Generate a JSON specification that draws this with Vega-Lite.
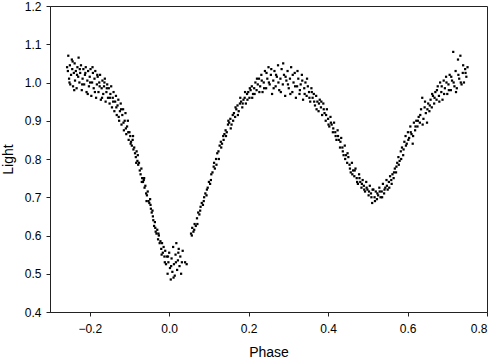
{
  "$schema": "https://vega.github.io/schema/vega-lite/v6.json",
  "width": 437,
  "height": 306,
  "autosize": {"type": "none"},
  "padding": {"left": 50, "top": 6, "right": 8, "bottom": 46},
  "background": "white",
  "config": {
    "view": {"stroke": "#222", "strokeWidth": 1},
    "axis": {
      "domainColor": "#222", "tickColor": "#222", "tickSize": 4, "grid": false,
      "labelFont": "Liberation Sans", "labelFontSize": 12, "labelColor": "#000",
      "titleFont": "Liberation Sans", "titleFontSize": 14, "titleFontWeight": "normal", "titleColor": "#000"
    }
  },
  "data": {"values": [
    {"phase": -0.255, "light": 1.03}, {"phase": -0.254, "light": 1.07}, {"phase": -0.252, "light": 1.01}, {"phase": -0.25, "light": 1.045},
    {"phase": -0.249, "light": 0.995}, {"phase": -0.247, "light": 1.02}, {"phase": -0.245, "light": 1.06}, {"phase": -0.244, "light": 1.035},
    {"phase": -0.242, "light": 0.99}, {"phase": -0.24, "light": 1.025}, {"phase": -0.238, "light": 1.05}, {"phase": -0.237, "light": 1.005},
    {"phase": -0.235, "light": 1.03}, {"phase": -0.233, "light": 0.985}, {"phase": -0.231, "light": 1.04}, {"phase": -0.229, "light": 1.015},
    {"phase": -0.228, "light": 1.065}, {"phase": -0.226, "light": 1.0}, {"phase": -0.224, "light": 1.025}, {"phase": -0.222, "light": 1.045},
    {"phase": -0.22, "light": 0.98}, {"phase": -0.218, "light": 1.01}, {"phase": -0.216, "light": 1.035}, {"phase": -0.214, "light": 0.995},
    {"phase": -0.212, "light": 1.02}, {"phase": -0.21, "light": 1.04}, {"phase": -0.208, "light": 0.975}, {"phase": -0.206, "light": 1.005},
    {"phase": -0.204, "light": 1.03}, {"phase": -0.202, "light": 0.99}, {"phase": -0.2, "light": 1.015}, {"phase": -0.198, "light": 1.035},
    {"phase": -0.196, "light": 0.965}, {"phase": -0.194, "light": 1.0}, {"phase": -0.192, "light": 1.025}, {"phase": -0.19, "light": 0.985},
    {"phase": -0.188, "light": 1.01}, {"phase": -0.186, "light": 1.03}, {"phase": -0.184, "light": 0.96}, {"phase": -0.182, "light": 0.995},
    {"phase": -0.18, "light": 1.015}, {"phase": -0.178, "light": 0.975}, {"phase": -0.176, "light": 1.0}, {"phase": -0.174, "light": 1.02},
    {"phase": -0.172, "light": 0.955}, {"phase": -0.17, "light": 0.985}, {"phase": -0.168, "light": 1.005}, {"phase": -0.166, "light": 0.97},
    {"phase": -0.164, "light": 0.99}, {"phase": -0.162, "light": 1.01}, {"phase": -0.16, "light": 0.95}, {"phase": -0.158, "light": 0.975},
    {"phase": -0.156, "light": 0.995}, {"phase": -0.154, "light": 0.96}, {"phase": -0.152, "light": 0.985}, {"phase": -0.15, "light": 0.945},
    {"phase": -0.148, "light": 0.97}, {"phase": -0.146, "light": 0.99}, {"phase": -0.144, "light": 0.935}, {"phase": -0.142, "light": 0.96},
    {"phase": -0.14, "light": 0.975}, {"phase": -0.138, "light": 0.925}, {"phase": -0.136, "light": 0.95}, {"phase": -0.134, "light": 0.965},
    {"phase": -0.132, "light": 0.915}, {"phase": -0.13, "light": 0.94}, {"phase": -0.128, "light": 0.955}, {"phase": -0.126, "light": 0.9},
    {"phase": -0.124, "light": 0.925}, {"phase": -0.122, "light": 0.945}, {"phase": -0.12, "light": 0.89}, {"phase": -0.118, "light": 0.915},
    {"phase": -0.116, "light": 0.93}, {"phase": -0.114, "light": 0.875}, {"phase": -0.112, "light": 0.9}, {"phase": -0.11, "light": 0.92},
    {"phase": -0.108, "light": 0.865}, {"phase": -0.106, "light": 0.885}, {"phase": -0.104, "light": 0.9}, {"phase": -0.102, "light": 0.85},
    {"phase": -0.1, "light": 0.87}, {"phase": -0.098, "light": 0.86}, {"phase": -0.096, "light": 0.845}, {"phase": -0.094, "light": 0.835},
    {"phase": -0.092, "light": 0.85}, {"phase": -0.09, "light": 0.825}, {"phase": -0.088, "light": 0.83}, {"phase": -0.086, "light": 0.815},
    {"phase": -0.084, "light": 0.805}, {"phase": -0.082, "light": 0.82}, {"phase": -0.08, "light": 0.795}, {"phase": -0.078, "light": 0.785},
    {"phase": -0.076, "light": 0.79}, {"phase": -0.074, "light": 0.77}, {"phase": -0.072, "light": 0.76}, {"phase": -0.07, "light": 0.775},
    {"phase": -0.068, "light": 0.75}, {"phase": -0.066, "light": 0.74}, {"phase": -0.064, "light": 0.745}, {"phase": -0.062, "light": 0.725},
    {"phase": -0.06, "light": 0.73}, {"phase": -0.058, "light": 0.71}, {"phase": -0.056, "light": 0.705}, {"phase": -0.054, "light": 0.715},
    {"phase": -0.052, "light": 0.69}, {"phase": -0.05, "light": 0.685}, {"phase": -0.048, "light": 0.695}, {"phase": -0.046, "light": 0.67},
    {"phase": -0.044, "light": 0.66}, {"phase": -0.042, "light": 0.665}, {"phase": -0.04, "light": 0.64}, {"phase": -0.038, "light": 0.625},
    {"phase": -0.036, "light": 0.635}, {"phase": -0.034, "light": 0.61}, {"phase": -0.032, "light": 0.605}, {"phase": -0.03, "light": 0.615},
    {"phase": -0.028, "light": 0.59}, {"phase": -0.026, "light": 0.6}, {"phase": -0.024, "light": 0.58}, {"phase": -0.022, "light": 0.585},
    {"phase": -0.02, "light": 0.565}, {"phase": -0.018, "light": 0.58}, {"phase": -0.016, "light": 0.555}, {"phase": -0.014, "light": 0.57},
    {"phase": -0.012, "light": 0.545}, {"phase": -0.01, "light": 0.56}, {"phase": -0.008, "light": 0.525}, {"phase": -0.006, "light": 0.545},
    {"phase": -0.004, "light": 0.5}, {"phase": -0.002, "light": 0.53}, {"phase": 0.0, "light": 0.555}, {"phase": 0.002, "light": 0.515},
    {"phase": 0.004, "light": 0.485}, {"phase": 0.006, "light": 0.54}, {"phase": 0.008, "light": 0.505}, {"phase": 0.01, "light": 0.57},
    {"phase": 0.012, "light": 0.525}, {"phase": 0.014, "light": 0.495}, {"phase": 0.016, "light": 0.55}, {"phase": 0.018, "light": 0.58},
    {"phase": 0.02, "light": 0.51}, {"phase": 0.022, "light": 0.535}, {"phase": 0.024, "light": 0.565}, {"phase": 0.026, "light": 0.52},
    {"phase": 0.028, "light": 0.545}, {"phase": 0.03, "light": 0.5}, {"phase": 0.034, "light": 0.56}, {"phase": 0.04, "light": 0.53},
    {"phase": 0.044, "light": 0.525}, {"phase": 0.055, "light": 0.605}, {"phase": 0.058, "light": 0.62}, {"phase": 0.061, "light": 0.61},
    {"phase": 0.064, "light": 0.63}, {"phase": 0.067, "light": 0.625}, {"phase": 0.07, "light": 0.645}, {"phase": 0.073, "light": 0.66},
    {"phase": 0.076, "light": 0.655}, {"phase": 0.079, "light": 0.675}, {"phase": 0.082, "light": 0.685}, {"phase": 0.085, "light": 0.68},
    {"phase": 0.088, "light": 0.7}, {"phase": 0.091, "light": 0.71}, {"phase": 0.094, "light": 0.705}, {"phase": 0.097, "light": 0.725},
    {"phase": 0.1, "light": 0.74}, {"phase": 0.103, "light": 0.735}, {"phase": 0.106, "light": 0.76}, {"phase": 0.109, "light": 0.765},
    {"phase": 0.112, "light": 0.78}, {"phase": 0.115, "light": 0.775}, {"phase": 0.118, "light": 0.8}, {"phase": 0.121, "light": 0.815},
    {"phase": 0.124, "light": 0.82}, {"phase": 0.127, "light": 0.835}, {"phase": 0.13, "light": 0.845}, {"phase": 0.133, "light": 0.84},
    {"phase": 0.136, "light": 0.86}, {"phase": 0.139, "light": 0.865}, {"phase": 0.142, "light": 0.875}, {"phase": 0.145, "light": 0.87},
    {"phase": 0.148, "light": 0.89}, {"phase": 0.151, "light": 0.895}, {"phase": 0.154, "light": 0.905}, {"phase": 0.157, "light": 0.89},
    {"phase": 0.16, "light": 0.915}, {"phase": 0.163, "light": 0.92}, {"phase": 0.166, "light": 0.91}, {"phase": 0.169, "light": 0.93},
    {"phase": 0.172, "light": 0.94}, {"phase": 0.175, "light": 0.925}, {"phase": 0.178, "light": 0.945}, {"phase": 0.181, "light": 0.95},
    {"phase": 0.184, "light": 0.935}, {"phase": 0.187, "light": 0.955}, {"phase": 0.19, "light": 0.96}, {"phase": 0.193, "light": 0.945},
    {"phase": 0.196, "light": 0.97}, {"phase": 0.199, "light": 0.975}, {"phase": 0.202, "light": 0.96}, {"phase": 0.205, "light": 0.98},
    {"phase": 0.208, "light": 0.99}, {"phase": 0.211, "light": 0.97}, {"phase": 0.214, "light": 0.985}, {"phase": 0.217, "light": 1.0},
    {"phase": 0.22, "light": 0.98}, {"phase": 0.223, "light": 0.995}, {"phase": 0.226, "light": 1.01}, {"phase": 0.229, "light": 0.99},
    {"phase": 0.232, "light": 1.02}, {"phase": 0.235, "light": 0.975}, {"phase": 0.238, "light": 1.0}, {"phase": 0.241, "light": 1.03},
    {"phase": 0.244, "light": 0.985}, {"phase": 0.247, "light": 1.01}, {"phase": 0.25, "light": 1.04}, {"phase": 0.253, "light": 0.995},
    {"phase": 0.256, "light": 1.02}, {"phase": 0.259, "light": 0.97}, {"phase": 0.262, "light": 1.005}, {"phase": 0.265, "light": 1.03},
    {"phase": 0.268, "light": 0.99}, {"phase": 0.271, "light": 1.015}, {"phase": 0.274, "light": 1.045}, {"phase": 0.277, "light": 0.98},
    {"phase": 0.28, "light": 1.01}, {"phase": 0.283, "light": 1.035}, {"phase": 0.286, "light": 0.995}, {"phase": 0.289, "light": 1.02},
    {"phase": 0.292, "light": 0.965}, {"phase": 0.295, "light": 1.005}, {"phase": 0.298, "light": 1.03}, {"phase": 0.301, "light": 0.985},
    {"phase": 0.304, "light": 1.01}, {"phase": 0.307, "light": 1.04}, {"phase": 0.31, "light": 0.975}, {"phase": 0.313, "light": 1.0},
    {"phase": 0.316, "light": 1.025}, {"phase": 0.319, "light": 0.96}, {"phase": 0.322, "light": 0.99}, {"phase": 0.325, "light": 1.01},
    {"phase": 0.328, "light": 0.97}, {"phase": 0.331, "light": 0.995}, {"phase": 0.334, "light": 1.02}, {"phase": 0.337, "light": 0.955},
    {"phase": 0.34, "light": 0.985}, {"phase": 0.343, "light": 1.0}, {"phase": 0.346, "light": 0.965}, {"phase": 0.349, "light": 0.99},
    {"phase": 0.352, "light": 0.975}, {"phase": 0.355, "light": 0.95}, {"phase": 0.358, "light": 0.985}, {"phase": 0.361, "light": 0.96},
    {"phase": 0.364, "light": 0.97}, {"phase": 0.367, "light": 0.94}, {"phase": 0.37, "light": 0.965}, {"phase": 0.373, "light": 0.95},
    {"phase": 0.376, "light": 0.925}, {"phase": 0.379, "light": 0.955}, {"phase": 0.382, "light": 0.935}, {"phase": 0.385, "light": 0.915},
    {"phase": 0.388, "light": 0.945}, {"phase": 0.391, "light": 0.92}, {"phase": 0.394, "light": 0.9}, {"phase": 0.397, "light": 0.93},
    {"phase": 0.4, "light": 0.905}, {"phase": 0.403, "light": 0.885}, {"phase": 0.406, "light": 0.91}, {"phase": 0.409, "light": 0.89},
    {"phase": 0.412, "light": 0.87}, {"phase": 0.415, "light": 0.895}, {"phase": 0.418, "light": 0.87}, {"phase": 0.421, "light": 0.85},
    {"phase": 0.424, "light": 0.875}, {"phase": 0.427, "light": 0.85}, {"phase": 0.43, "light": 0.83}, {"phase": 0.433, "light": 0.855},
    {"phase": 0.436, "light": 0.83}, {"phase": 0.439, "light": 0.81}, {"phase": 0.442, "light": 0.835}, {"phase": 0.445, "light": 0.81},
    {"phase": 0.448, "light": 0.79}, {"phase": 0.451, "light": 0.805}, {"phase": 0.454, "light": 0.785}, {"phase": 0.457, "light": 0.765},
    {"phase": 0.46, "light": 0.79}, {"phase": 0.463, "light": 0.77}, {"phase": 0.466, "light": 0.755}, {"phase": 0.469, "light": 0.775},
    {"phase": 0.472, "light": 0.75}, {"phase": 0.475, "light": 0.735}, {"phase": 0.478, "light": 0.76}, {"phase": 0.481, "light": 0.74},
    {"phase": 0.484, "light": 0.725}, {"phase": 0.487, "light": 0.745}, {"phase": 0.49, "light": 0.73}, {"phase": 0.493, "light": 0.715},
    {"phase": 0.496, "light": 0.74}, {"phase": 0.499, "light": 0.72}, {"phase": 0.502, "light": 0.705}, {"phase": 0.505, "light": 0.73},
    {"phase": 0.508, "light": 0.71}, {"phase": 0.511, "light": 0.685}, {"phase": 0.514, "light": 0.72}, {"phase": 0.517, "light": 0.7},
    {"phase": 0.52, "light": 0.715}, {"phase": 0.523, "light": 0.695}, {"phase": 0.526, "light": 0.705}, {"phase": 0.529, "light": 0.725},
    {"phase": 0.532, "light": 0.7}, {"phase": 0.535, "light": 0.715}, {"phase": 0.538, "light": 0.735}, {"phase": 0.541, "light": 0.71},
    {"phase": 0.544, "light": 0.725}, {"phase": 0.547, "light": 0.745}, {"phase": 0.55, "light": 0.72}, {"phase": 0.553, "light": 0.74},
    {"phase": 0.556, "light": 0.755}, {"phase": 0.559, "light": 0.745}, {"phase": 0.562, "light": 0.76}, {"phase": 0.565, "light": 0.75},
    {"phase": 0.568, "light": 0.775}, {"phase": 0.571, "light": 0.765}, {"phase": 0.574, "light": 0.79}, {"phase": 0.577, "light": 0.805},
    {"phase": 0.58, "light": 0.795}, {"phase": 0.583, "light": 0.82}, {"phase": 0.586, "light": 0.83}, {"phase": 0.589, "light": 0.81},
    {"phase": 0.592, "light": 0.845}, {"phase": 0.595, "light": 0.86}, {"phase": 0.598, "light": 0.84}, {"phase": 0.601, "light": 0.87},
    {"phase": 0.604, "light": 0.855}, {"phase": 0.607, "light": 0.885}, {"phase": 0.61, "light": 0.865}, {"phase": 0.613, "light": 0.84},
    {"phase": 0.616, "light": 0.895}, {"phase": 0.619, "light": 0.875}, {"phase": 0.622, "light": 0.9}, {"phase": 0.625, "light": 0.885},
    {"phase": 0.628, "light": 0.91}, {"phase": 0.631, "light": 0.895}, {"phase": 0.634, "light": 0.93}, {"phase": 0.637, "light": 0.96},
    {"phase": 0.64, "light": 0.905}, {"phase": 0.643, "light": 0.935}, {"phase": 0.646, "light": 0.92}, {"phase": 0.649, "light": 0.895},
    {"phase": 0.652, "light": 0.945}, {"phase": 0.655, "light": 0.925}, {"phase": 0.658, "light": 0.955}, {"phase": 0.661, "light": 0.935},
    {"phase": 0.664, "light": 0.965}, {"phase": 0.667, "light": 0.945}, {"phase": 0.67, "light": 0.975}, {"phase": 0.673, "light": 0.955},
    {"phase": 0.676, "light": 0.99}, {"phase": 0.679, "light": 0.965}, {"phase": 0.682, "light": 1.0}, {"phase": 0.685, "light": 0.975},
    {"phase": 0.688, "light": 0.955}, {"phase": 0.691, "light": 1.005}, {"phase": 0.694, "light": 0.985}, {"phase": 0.697, "light": 1.015},
    {"phase": 0.7, "light": 0.97}, {"phase": 0.703, "light": 0.995}, {"phase": 0.706, "light": 1.02}, {"phase": 0.709, "light": 0.98},
    {"phase": 0.712, "light": 1.005}, {"phase": 0.715, "light": 1.08}, {"phase": 0.718, "light": 0.99}, {"phase": 0.721, "light": 1.03},
    {"phase": 0.724, "light": 0.985}, {"phase": 0.727, "light": 1.06}, {"phase": 0.73, "light": 1.01}, {"phase": 0.733, "light": 1.07},
    {"phase": 0.736, "light": 0.995}, {"phase": 0.739, "light": 1.025}, {"phase": 0.742, "light": 1.0}, {"phase": 0.745, "light": 1.035},
    {"phase": 0.748, "light": 1.015}, {"phase": 0.751, "light": 1.04},
    {"phase": -0.257, "light": 1.04}, {"phase": -0.251, "light": 1.0}, {"phase": -0.243, "light": 1.055}, {"phase": -0.239, "light": 0.98},
    {"phase": -0.232, "light": 1.02}, {"phase": -0.225, "light": 1.035}, {"phase": -0.219, "light": 0.995}, {"phase": -0.211, "light": 1.025},
    {"phase": -0.205, "light": 0.97}, {"phase": -0.199, "light": 1.0}, {"phase": -0.193, "light": 1.04}, {"phase": -0.187, "light": 0.975},
    {"phase": -0.181, "light": 1.02}, {"phase": -0.175, "light": 0.99}, {"phase": -0.169, "light": 0.96}, {"phase": -0.163, "light": 1.0},
    {"phase": -0.157, "light": 0.985}, {"phase": -0.149, "light": 0.96}, {"phase": -0.141, "light": 0.95}, {"phase": -0.133, "light": 0.935},
    {"phase": -0.127, "light": 0.91}, {"phase": -0.121, "light": 0.93}, {"phase": -0.115, "light": 0.895}, {"phase": -0.109, "light": 0.88},
    {"phase": -0.103, "light": 0.87}, {"phase": -0.097, "light": 0.84}, {"phase": -0.091, "light": 0.86}, {"phase": -0.083, "light": 0.79},
    {"phase": -0.079, "light": 0.81}, {"phase": -0.069, "light": 0.74}, {"phase": -0.063, "light": 0.75}, {"phase": -0.057, "light": 0.69},
    {"phase": -0.047, "light": 0.68}, {"phase": -0.041, "light": 0.65}, {"phase": -0.035, "light": 0.62}, {"phase": -0.027, "light": 0.605},
    {"phase": -0.019, "light": 0.55}, {"phase": -0.011, "light": 0.53}, {"phase": -0.003, "light": 0.545}, {"phase": 0.005, "light": 0.52},
    {"phase": 0.011, "light": 0.49}, {"phase": 0.017, "light": 0.53}, {"phase": 0.023, "light": 0.555}, {"phase": 0.032, "light": 0.53},
    {"phase": 0.057, "light": 0.6}, {"phase": 0.063, "light": 0.615}, {"phase": 0.071, "light": 0.63}, {"phase": 0.078, "light": 0.665},
    {"phase": 0.087, "light": 0.69}, {"phase": 0.095, "light": 0.72}, {"phase": 0.105, "light": 0.745}, {"phase": 0.113, "light": 0.79},
    {"phase": 0.119, "light": 0.785}, {"phase": 0.125, "light": 0.8}, {"phase": 0.131, "light": 0.83}, {"phase": 0.137, "light": 0.85},
    {"phase": 0.143, "light": 0.86}, {"phase": 0.149, "light": 0.9}, {"phase": 0.155, "light": 0.88}, {"phase": 0.161, "light": 0.9},
    {"phase": 0.167, "light": 0.935}, {"phase": 0.173, "light": 0.915}, {"phase": 0.179, "light": 0.96}, {"phase": 0.185, "light": 0.945},
    {"phase": 0.191, "light": 0.975}, {"phase": 0.197, "light": 0.955}, {"phase": 0.203, "light": 0.985}, {"phase": 0.209, "light": 0.96},
    {"phase": 0.215, "light": 0.97}, {"phase": 0.221, "light": 1.01}, {"phase": 0.227, "light": 0.975}, {"phase": 0.233, "light": 1.005},
    {"phase": 0.239, "light": 0.985}, {"phase": 0.245, "light": 1.025}, {"phase": 0.251, "light": 1.0}, {"phase": 0.257, "light": 1.035},
    {"phase": 0.263, "light": 0.985}, {"phase": 0.269, "light": 1.02}, {"phase": 0.275, "light": 1.0}, {"phase": 0.281, "light": 0.975},
    {"phase": 0.287, "light": 1.05}, {"phase": 0.293, "light": 1.015}, {"phase": 0.299, "light": 0.995}, {"phase": 0.305, "light": 0.97},
    {"phase": 0.311, "light": 1.02}, {"phase": 0.317, "light": 0.99}, {"phase": 0.323, "light": 1.03}, {"phase": 0.329, "light": 0.98},
    {"phase": 0.335, "light": 1.005}, {"phase": 0.341, "light": 0.97}, {"phase": 0.347, "light": 1.01}, {"phase": 0.353, "light": 0.96},
    {"phase": 0.359, "light": 0.975}, {"phase": 0.365, "light": 0.95}, {"phase": 0.371, "light": 0.93}, {"phase": 0.377, "light": 0.945},
    {"phase": 0.383, "light": 0.95}, {"phase": 0.389, "light": 0.93}, {"phase": 0.395, "light": 0.915}, {"phase": 0.401, "light": 0.89},
    {"phase": 0.407, "light": 0.895}, {"phase": 0.413, "light": 0.88}, {"phase": 0.419, "light": 0.86}, {"phase": 0.425, "light": 0.86},
    {"phase": 0.431, "light": 0.845}, {"phase": 0.437, "light": 0.82}, {"phase": 0.443, "light": 0.8}, {"phase": 0.449, "light": 0.815},
    {"phase": 0.455, "light": 0.775}, {"phase": 0.461, "light": 0.76}, {"phase": 0.467, "light": 0.77}, {"phase": 0.473, "light": 0.74},
    {"phase": 0.479, "light": 0.75}, {"phase": 0.485, "light": 0.735}, {"phase": 0.491, "light": 0.72}, {"phase": 0.497, "light": 0.725},
    {"phase": 0.503, "light": 0.715}, {"phase": 0.509, "light": 0.7}, {"phase": 0.512, "light": 0.72}, {"phase": 0.518, "light": 0.69},
    {"phase": 0.524, "light": 0.71}, {"phase": 0.53, "light": 0.715}, {"phase": 0.536, "light": 0.7}, {"phase": 0.542, "light": 0.72},
    {"phase": 0.548, "light": 0.73}, {"phase": 0.554, "light": 0.725}, {"phase": 0.56, "light": 0.735}, {"phase": 0.566, "light": 0.765},
    {"phase": 0.572, "light": 0.78}, {"phase": 0.578, "light": 0.785}, {"phase": 0.584, "light": 0.8}, {"phase": 0.59, "light": 0.825},
    {"phase": 0.596, "light": 0.835}, {"phase": 0.602, "light": 0.85}, {"phase": 0.608, "light": 0.87}, {"phase": 0.614, "light": 0.86},
    {"phase": 0.62, "light": 0.885}, {"phase": 0.626, "light": 0.9}, {"phase": 0.632, "light": 0.915}, {"phase": 0.638, "light": 0.89},
    {"phase": 0.644, "light": 0.95}, {"phase": 0.65, "light": 0.93}, {"phase": 0.656, "light": 0.94}, {"phase": 0.662, "light": 0.97},
    {"phase": 0.668, "light": 0.96}, {"phase": 0.674, "light": 0.98}, {"phase": 0.68, "light": 0.95}, {"phase": 0.686, "light": 0.99},
    {"phase": 0.692, "light": 0.97}, {"phase": 0.698, "light": 1.0}, {"phase": 0.704, "light": 0.98}, {"phase": 0.71, "light": 1.015},
    {"phase": 0.716, "light": 1.0}, {"phase": 0.722, "light": 0.975}, {"phase": 0.728, "light": 1.02}, {"phase": 0.734, "light": 1.0},
    {"phase": 0.74, "light": 1.045}, {"phase": 0.746, "light": 1.025}
  ]},
  "mark": {"type": "point", "shape": "square", "filled": true, "size": 5, "color": "#000", "opacity": 1},
  "encoding": {
    "x": {
      "field": "phase", "type": "quantitative", "title": "Phase",
      "scale": {"domain": [-0.3, 0.8], "nice": false, "zero": false},
      "axis": {"values": [-0.2, 0, 0.2, 0.4, 0.6, 0.8], "format": ".1f", "labelPadding": 7, "titlePadding": 11}
    },
    "y": {
      "field": "light", "type": "quantitative", "title": "Light",
      "scale": {"domain": [0.4, 1.2], "nice": false, "zero": false},
      "axis": {"values": [0.4, 0.5, 0.6, 0.7, 0.8, 0.9, 1.0, 1.1, 1.2], "format": ".1f", "labelPadding": 5, "titlePadding": 9}
    }
  }
}
